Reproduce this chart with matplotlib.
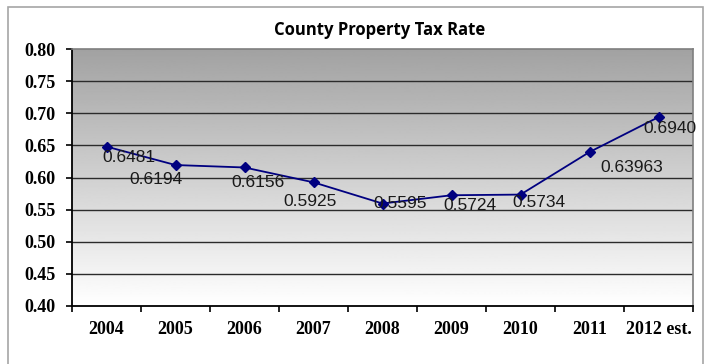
import numpy as np
import matplotlib
matplotlib.use("Agg")
import matplotlib.pyplot as plt
from matplotlib.patches import Rectangle

years = ["2004", "2005", "2006", "2007", "2008", "2009", "2010", "2011", "2012 est."]
rates = [0.6481, 0.6194, 0.6156, 0.5925, 0.5595, 0.5724, 0.5734, 0.63963, 0.6940]
rate_labels = ["0.6481", "0.6194", "0.6156", "0.5925", "0.5595", "0.5724", "0.5734", "0.63963", "0.6940"]
y_ticks = [0.40, 0.45, 0.50, 0.55, 0.60, 0.65, 0.70, 0.75, 0.80]

# label placement relative to each point (pixels)
label_offsets = [(22, -11), (-20, -14), (14, -15), (-3, -19), (18, 0),
                 (18, -10), (18, -8), (42, -15), (11, -11)]

fig = plt.figure(figsize=(7.09, 3.64), dpi=100)
fig.patch.set_facecolor("white")

# outer chart frame
fig.patches.append(Rectangle((8 / 709, -0.05), 695 / 709, 1.05 - 7 / 364,
                             transform=fig.transFigure, fill=False,
                             edgecolor="#a6a6a6", linewidth=1.2))

ax = fig.add_axes([72 / 709, 1 - 306 / 364, 621 / 709, 257 / 364])
ax.set_xlim(-0.5, 8.5)
ax.set_ylim(0.40, 0.80)

# vertical gray gradient behind the plot
grad = np.linspace(1.0, 0.635, 256).reshape(-1, 1)
ax.imshow(grad, cmap="gray", vmin=0, vmax=1, aspect="auto",
          extent=[-0.5, 8.5, 0.40, 0.80], origin="lower", zorder=0)

for yv in y_ticks[1:-1]:
    ax.axhline(yv, color="#2b2b2b", linewidth=1.0, zorder=1)

x = np.arange(len(years))
ax.plot(x, rates, color="#000080", linewidth=1.3, marker="D", markersize=5.5,
        markerfacecolor="#000080", markeredgecolor="#000080", zorder=3)

for xi, v, txt, (dx, dy) in zip(x, rates, rate_labels, label_offsets):
    ax.annotate(txt, (xi, v), xytext=(dx, dy), textcoords="offset pixels",
                ha="center", va="center", fontsize=12.5,
                family="Liberation Sans", color="#1a1a1a", zorder=4)

ax.set_yticks(y_ticks)
ax.set_yticklabels([f"{t:.2f}" for t in y_ticks], family="Liberation Serif",
                   fontweight="bold", fontsize=13)
ax.set_xticks(x)
ax.set_xticklabels(years, family="Liberation Serif", fontweight="bold", fontsize=13)
ax.set_xticks(np.arange(-0.5, 9.0, 1.0), minor=True)
ax.tick_params(axis="x", which="major", length=0, pad=11)
ax.tick_params(axis="x", which="minor", length=4, width=1.2, color="black", direction="out")
ax.tick_params(axis="y", which="major", length=4, width=1.2, color="black", pad=8)

for side in ("left", "bottom"):
    ax.spines[side].set_color("black")
    ax.spines[side].set_linewidth(1.3)
for side in ("top", "right"):
    ax.spines[side].set_color("#7f7f7f")
    ax.spines[side].set_linewidth(1.2)

fig.text(380 / 709, 1 - 30 / 364, "County Property Tax Rate", ha="center", va="center",
         fontsize=12, fontweight="bold", family="Open Sans")

fig.savefig("out.png", dpi=100)
